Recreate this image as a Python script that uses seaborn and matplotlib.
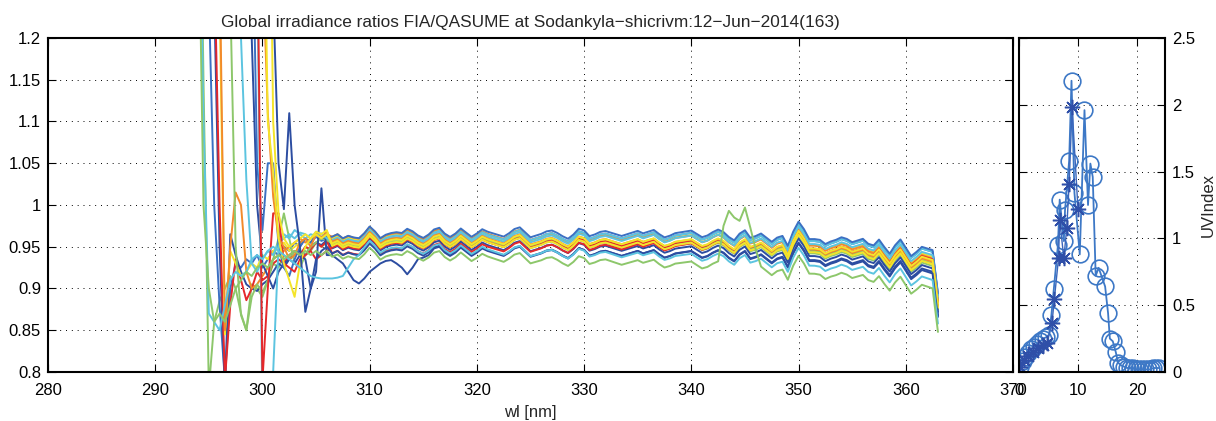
import numpy as np
import pandas as pd
import matplotlib
matplotlib.use("Agg")
import matplotlib.pyplot as plt
import seaborn as sns

# ---------------- data ----------------
title_text = "Global irradiance ratios FIA/QASUME at Sodankyla\u2212shicrivm:12\u2212Jun\u22122014(163)"
x_label = "wl [nm]"
uv_label = "UVIndex"

x_ticks = [280, 290, 300, 310, 320, 330, 340, 350, 360, 370]
y_ticks = [0.8, 0.85, 0.9, 0.95, 1.0, 1.05, 1.1, 1.15, 1.2]
y_tick_labels = ["0.8", "0.85", "0.9", "0.95", "1", "1.05", "1.1", "1.15", "1.2"]
uv_x_ticks = [0, 10, 20]
uv_y_ticks = [0, 0.5, 1, 1.5, 2, 2.5]
uv_y_tick_labels = ["0", "0.5", "1", "1.5", "2", "2.5"]

# wavelength grids (nm)
wl_head = np.arange(294.0, 306.01, 0.5)   # noisy short-wave part, per curve
wl_main = np.arange(306.5, 363.01, 0.5)   # common spectral part

# common ratio shape (centre of bundle), 306.5 ... 363.0 nm
base_ratio = [
    0.952, 0.955, 0.950, 0.953, 0.951, 0.950, 0.956, 0.964, 0.958, 0.950,
    0.954, 0.956, 0.957, 0.956, 0.961, 0.958, 0.953, 0.950, 0.954, 0.960,
    0.962, 0.955, 0.951, 0.955, 0.961, 0.956, 0.951, 0.955, 0.960, 0.957,
    0.955, 0.953, 0.951, 0.955, 0.960, 0.962, 0.956, 0.950, 0.952, 0.954,
    0.957, 0.958, 0.955, 0.951, 0.948, 0.953, 0.960, 0.958, 0.951, 0.953,
    0.956, 0.957, 0.955, 0.953, 0.951, 0.953, 0.955, 0.957, 0.954, 0.956,
    0.958, 0.953, 0.949, 0.951, 0.954, 0.955, 0.956, 0.957, 0.953, 0.949,
    0.951, 0.955, 0.958, 0.955, 0.949, 0.945, 0.953, 0.957, 0.948, 0.950,
    0.953, 0.948, 0.943, 0.948, 0.950, 0.938, 0.955, 0.967, 0.958, 0.946,
    0.946, 0.945, 0.940, 0.943, 0.945, 0.948, 0.946, 0.942, 0.944, 0.946,
    0.940, 0.938, 0.945, 0.936, 0.928, 0.938, 0.945, 0.935, 0.925, 0.930,
    0.936, 0.934, 0.932, 0.880,
]

DB, BL, CY, GR, YE, OR, RD = "#2c4da1", "#3b70c3", "#5cc4e0", "#8dc76b", "#f4e42a", "#f28a2b", "#e5282b"
curve_colors = [GR, BL, DB, RD, YE, OR, GR, CY, DB, BL, CY, RD, OR, YE, YE, DB, CY, GR]

# ratios 294.0 ... 306.0 nm for each curve (values beyond 0.8/1.2 leave the frame)
head_ratios = [
    [1.6, 1.15, 0.78, 0.86, 0.885, 0.90, 0.915, 0.90, 0.87, 0.85, 0.905, 0.90, 0.89, 0.91, 0.93, 0.925, 0.94, 0.935, 0.945, 0.94, 0.95, 0.945, 0.955, 0.95, 0.955],
    [1.9, 1.6, 1.25, 1.0, 0.88, 0.79, 0.90, 0.93, 0.925, 0.935, 0.93, 0.94, 0.925, 0.935, 0.945, 0.94, 0.95, 0.945, 0.955, 0.95, 0.96, 0.955, 0.962, 0.957, 0.96],
    [2.0, 1.8, 1.5, 1.25, 0.95, 0.78, 0.965, 0.94, 0.92, 0.905, 0.90, 0.897, 0.905, 0.91, 0.92, 0.93, 0.925, 0.935, 0.94, 0.945, 0.94, 0.95, 0.955, 0.952, 0.958],
    [2.0, 1.8, 1.6, 1.3, 1.0, 0.79, 0.88, 0.935, 0.91, 0.886, 0.90, 0.92, 0.91, 0.915, 0.93, 0.935, 0.93, 0.94, 0.945, 0.94, 0.95, 0.947, 0.955, 0.95, 0.957],
    [2.0, 1.9, 1.7, 1.5, 1.25, 0.845, 0.945, 0.93, 0.915, 0.92, 0.93, 0.925, 0.94, 0.935, 0.945, 0.95, 0.955, 0.945, 0.95, 0.955, 0.96, 0.955, 0.965, 0.96, 0.962],
    [2.0, 1.9, 1.7, 1.5, 1.3, 0.85, 0.95, 1.015, 1.0, 0.92, 0.90, 0.905, 0.915, 0.925, 0.935, 0.94, 0.945, 0.95, 0.955, 0.96, 0.955, 0.96, 0.965, 0.962, 0.965],
    [2.0, 2.0, 1.9, 1.8, 1.6, 1.4, 1.25, 0.95, 0.868, 0.85, 0.89, 0.905, 0.895, 0.91, 0.935, 0.96, 0.99, 0.96, 0.93, 0.925, 0.94, 0.95, 0.955, 0.96, 0.958],
    [2.0, 2.0, 2.0, 1.9, 1.8, 1.7, 1.6, 1.4, 1.2, 1.03, 0.93, 0.92, 0.935, 0.945, 0.94, 0.955, 0.96, 0.965, 0.96, 0.967, 0.965, 0.96, 0.968, 0.965, 0.963],
    [2.0, 2.0, 2.0, 2.0, 1.9, 1.8, 1.7, 1.6, 1.5, 1.35, 1.2, 1.0, 0.93, 0.915, 0.90, 0.92, 0.93, 0.935, 0.93, 0.94, 0.935, 0.90, 0.92, 1.02, 0.94],
    [2.0, 2.0, 2.0, 2.0, 1.9, 1.8, 1.7, 1.6, 1.5, 1.45, 1.4, 1.05, 0.97, 1.05, 1.05, 0.95, 0.925, 0.915, 0.935, 0.95, 0.96, 0.955, 0.965, 0.96, 0.962],
    [2.0, 2.0, 2.0, 2.0, 2.0, 1.9, 1.8, 1.7, 1.6, 1.5, 1.4, 1.3, 0.75, 0.70, 0.80, 0.95, 0.965, 0.96, 0.97, 0.965, 0.96, 0.965, 0.963, 0.966, 0.96],
    [2.0, 2.0, 2.0, 2.0, 2.0, 2.0, 1.9, 1.8, 1.7, 1.6, 1.5, 1.35, 0.79, 0.90, 0.99, 0.99, 0.93, 0.925, 0.92, 0.935, 0.94, 0.945, 0.935, 0.94, 0.945],
    [2.0] * 12 + [1.3, 1.11, 1.01, 0.96, 0.95, 0.935, 0.94, 0.955, 0.96, 0.95, 0.965, 0.96, 0.968],
    [2.0] * 12 + [1.5, 1.1, 1.04, 0.96, 0.93, 0.91, 0.89, 0.93, 0.95, 0.96, 0.965, 0.96, 0.965],
    [2.0] * 13 + [1.6, 1.1, 0.99, 0.96, 0.95, 0.955, 0.96, 0.965, 0.96, 0.968, 0.965, 0.97],
    [2.0] * 13 + [1.6, 1.25, 1.05, 0.995, 1.11, 1.0, 0.95, 0.872, 0.90, 0.935, 0.945, 0.95],
    [1.5, 1.1, 0.87, 0.86, 0.85, 0.88, 0.91, 0.92, 0.915, 0.92, 0.935, 0.94, 0.935, 0.945, 0.95, 0.945, 0.94, 0.935, 0.93, 0.925, 0.92, 0.915, 0.913, 0.912, 0.912],
    [1.4, 1.0, 0.9, 0.86, 0.87, 0.86, 0.88, 0.9, 0.91, 0.92, 0.915, 0.925, 0.93, 0.925, 0.935, 0.94, 0.935, 0.94, 0.945, 0.94, 0.945, 0.94, 0.945, 0.94, 0.945],
]

# offset of each curve from the common shape, at 306.5 nm and at 363 nm
offset_start = [0.000, 0.006, -0.004, -0.010, 0.008, 0.010, 0.002, 0.006, -0.012, 0.010, 0.004, -0.003, 0.004, 0.002, -0.001, -0.010, -0.006, -0.014]
offset_end = [-0.005, 0.012, -0.008, 0.002, 0.006, 0.004, -0.002, 0.012, -0.012, 0.014, 0.008, 0.003, 0.000, 0.002, -0.003, -0.014, -0.022, -0.032]

# individual deviations: curve -> (start wl, values)
curve_detail = {
    8: (306.5, [0.94, 0.935, 0.93, 0.92, 0.91, 0.906, 0.912, 0.92, 0.925, 0.93, 0.933, 0.934, 0.93, 0.925, 0.917, 0.925, 0.935, 0.937, 0.94]),
    16: (306.5, [0.912, 0.913, 0.915, 0.925, 0.935, 0.94]),
    17: (343.0, [0.975, 0.993, 0.985, 0.981, 0.997, 0.973, 0.947]),
}

# UV index panel
uv_hour_circle = [0.1, 0.6, 1.1, 1.6, 2.1, 2.6, 3.1, 3.6, 4.1, 4.6, 5.1, 5.5, 5.9, 6.6, 6.9, 7.6, 7.8, 8.5, 8.9, 9.4,
                  10.3, 11.1, 11.7, 12.1, 12.5, 13.0, 13.5, 14.6, 15.1, 15.4, 15.9, 16.4, 16.8, 17.3, 17.8, 18.3,
                  18.8, 19.3, 19.8, 20.3, 20.8, 21.3, 21.8, 22.3, 22.8, 23.3, 23.8]
uv_circle = [0.04, 0.08, 0.11, 0.14, 0.17, 0.19, 0.21, 0.23, 0.25, 0.26, 0.28, 0.43, 0.62, 0.95, 1.29, 0.98, 1.21, 1.58,
             2.18, 1.34, 0.88, 1.96, 1.25, 1.56, 1.46, 0.72, 0.78, 0.64, 0.44, 0.25, 0.23, 0.15, 0.07, 0.05, 0.04, 0.03,
             0.03, 0.03, 0.02, 0.02, 0.02, 0.02, 0.02, 0.02, 0.03, 0.03, 0.03]
uv_hour_star = [0.1, 0.9, 1.6, 2.4, 3.2, 4.0, 4.8, 5.6, 6.0, 6.7, 6.9, 7.6, 8.1, 8.5, 9.0, 10.0]
uv_star = [0.04, 0.09, 0.12, 0.15, 0.18, 0.20, 0.22, 0.37, 0.55, 0.85, 1.14, 0.85, 1.08, 1.41, 1.98, 1.22]

# ---------------- build long table ----------------
rows = []
span = wl_main[-1] - wl_main[0]
for k, head in enumerate(head_ratios):
    main = np.array(base_ratio) + offset_start[k] + (offset_end[k] - offset_start[k]) * (wl_main - wl_main[0]) / span
    if k in curve_detail:
        start, vals = curve_detail[k]
        i0 = int(round((start - wl_main[0]) / 0.5))
        main[i0:i0 + len(vals)] = vals
    wl = np.concatenate([wl_head, wl_main])
    r = np.concatenate([np.array(head), main])
    for w, v in zip(wl, r):
        rows.append({"curve": f"c{k:02d}", "wl": w, "ratio": v})
df = pd.DataFrame(rows)
palette = {f"c{k:02d}": c for k, c in enumerate(curve_colors)}

df_circ = pd.DataFrame({"hour": uv_hour_circle, "uv": uv_circle})
df_star = pd.DataFrame({"hour": uv_hour_star, "uv": uv_star})

# ---------------- plot ----------------
sns.set_theme(style="white")
plt.rcParams["font.family"] = ["Liberation Sans", "DejaVu Sans"]
plt.rcParams["axes.unicode_minus"] = True

FS = 12
fig = plt.figure(figsize=(12.16, 4.21), dpi=100)
W, H = 1216, 421
ax = fig.add_axes([48 / W, 1 - 372 / H, 965 / W, 334 / H])
ax2 = fig.add_axes([1019 / W, 1 - 372 / H, 146 / W, 334 / H])

sns.lineplot(data=df, x="wl", y="ratio", hue="curve", palette=palette, legend=False,
             estimator=None, sort=False, linewidth=1.4, ax=ax)

ax.set_xlim(280, 370)
ax.set_ylim(0.8, 1.2)
ax.set_xticks(x_ticks)
ax.set_xticklabels([str(t) for t in x_ticks])
ax.set_yticks(y_ticks)
ax.set_yticklabels(y_tick_labels)
ax.set_xlabel(x_label, fontsize=FS, labelpad=5)
ax.set_ylabel("")
ax.set_title(title_text, fontsize=12.4, pad=8)

grid_kw = dict(color="black", linestyle=(0, (1, 5)), linewidth=0.7)
for a in (ax, ax2):
    a.grid(True, **grid_kw)
    a.set_axisbelow(True)
    for s in a.spines.values():
        s.set_color("black")
        s.set_linewidth(1.5)
    a.tick_params(direction="in", length=6, width=0.8, labelsize=FS, colors="black",
                  top=True, right=True, bottom=True, left=True, pad=5)
    a.tick_params(axis="x", pad=8)

sns.lineplot(data=df_circ, x="hour", y="uv", ax=ax2, color="#3d78c6", linewidth=1.3,
             marker="o", markersize=12, markerfacecolor="none", markeredgecolor="#3d78c6",
             markeredgewidth=1.2, estimator=None, sort=False)
sns.lineplot(data=df_star, x="hour", y="uv", ax=ax2, color="#3a66bb", linewidth=1.0,
             marker=(8, 2, 0), markersize=11, markeredgecolor="#2f4fa8",
             markeredgewidth=1.1, estimator=None, sort=False)

ax2.set_xlim(0, 24.75)
ax2.set_ylim(0, 2.5)
ax2.set_xticks(uv_x_ticks)
ax2.set_xticklabels([str(t) for t in uv_x_ticks])
ax2.set_yticks(uv_y_ticks)
ax2.set_yticklabels(uv_y_tick_labels)
ax2.yaxis.tick_right()
ax2.tick_params(axis="y", left=True, right=True, labelleft=False, labelright=True)
ax2.yaxis.set_label_position("right")
ax2.set_ylabel(uv_label, fontsize=FS, labelpad=4)
ax2.set_xlabel("")

fig.savefig("out.png", dpi=100)
